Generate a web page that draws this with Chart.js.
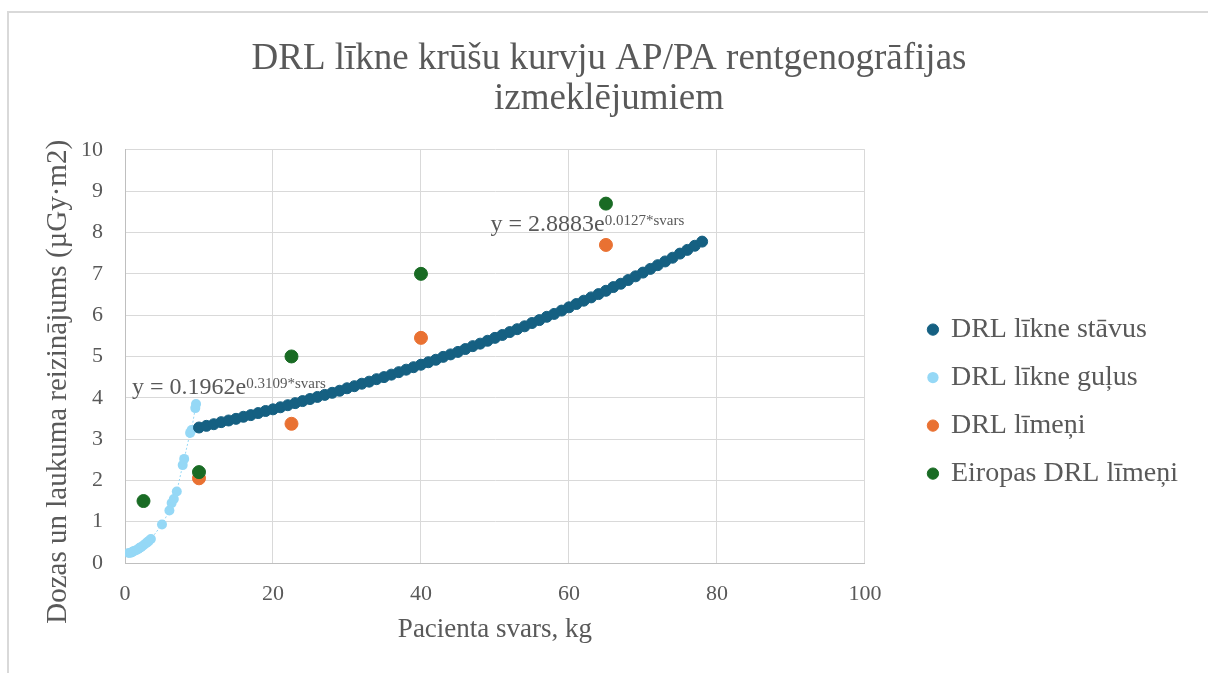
<!DOCTYPE html>
<html>
<head>
<meta charset="utf-8">
<script src="https://cdn.jsdelivr.net/npm/chart.js@4.4.1/dist/chart.umd.min.js"></script>
<style>
  body { margin: 0; background: #fff; }
  #frame { position: absolute; left: 7px; top: 11px; width: 1300px; height: 700px;
           border-left: 2px solid #d9d9d9; border-top: 2px solid #d9d9d9; }
  #wrap { position: absolute; left: 0; top: 0; width: 1208px; height: 673px; }
</style>
</head>
<body>
<div id="frame"></div>
<div id="wrap"><canvas id="drlChart" width="1208" height="673"></canvas></div>
<script>
// DRL līkne stāvus (svars kg -> dozas un laukuma reizinājums)
const standingWeight = [10, 11, 12, 13, 14, 15, 16, 17, 18, 19, 20, 21, 22, 23, 24, 25, 26, 27, 28, 29,
    30, 31, 32, 33, 34, 35, 36, 37, 38, 39, 40, 41, 42, 43, 44, 45, 46, 47, 48, 49,
    50, 51, 52, 53, 54, 55, 56, 57, 58, 59, 60, 61, 62, 63, 64, 65, 66, 67, 68, 69,
    70, 71, 72, 73, 74, 75, 76, 77, 78];
const standingDose = [3.28, 3.32, 3.36, 3.41, 3.45, 3.49, 3.54, 3.58, 3.63, 3.68, 3.72, 3.77, 3.82, 3.87, 3.92, 3.97, 4.02, 4.07, 4.12, 4.17,
    4.23, 4.28, 4.34, 4.39, 4.45, 4.50, 4.56, 4.62, 4.68, 4.74, 4.80, 4.86, 4.92, 4.99, 5.05, 5.11, 5.18, 5.25, 5.31, 5.38,
    5.45, 5.52, 5.59, 5.66, 5.73, 5.81, 5.88, 5.96, 6.03, 6.11, 6.19, 6.27, 6.35, 6.43, 6.51, 6.59, 6.68, 6.76, 6.85, 6.94,
    7.03, 7.12, 7.21, 7.30, 7.39, 7.49, 7.58, 7.68, 7.78];

// DRL līkne guļus
const lyingWeight = [0.5, 0.8, 1.0, 1.2, 1.5, 1.8, 2.0, 2.2, 2.5, 2.8, 3.0, 3.2, 3.5, 5.0, 6.0, 6.3, 6.6, 7.0, 7.8, 8.0, 8.8, 9.0, 9.5, 9.6];
const lyingDose = [0.24, 0.25, 0.27, 0.29, 0.31, 0.34, 0.37, 0.39, 0.43, 0.47, 0.50, 0.53, 0.58, 0.93, 1.27, 1.45, 1.55, 1.73, 2.37, 2.52, 3.15, 3.22, 3.75, 3.85];

// DRL līmeņi un Eiropas DRL līmeņi
const drlWeight = [10, 22.5, 40, 65];
const drlDose = [2.05, 3.37, 5.45, 7.7];
const euWeight = [2.5, 10, 22.5, 40, 65];
const euDose = [1.5, 2.2, 5.0, 7.0, 8.7];

const seriesNames = ["DRL līkne stāvus", "DRL līkne guļus", "DRL līmeņi", "Eiropas DRL līmeņi"];
const chartTitle = ["DRL līkne krūšu kurvju AP/PA rentgenogrāfijas", "izmeklējumiem"];

// trendline equations: [base, exponent, anchor x, anchor y]
const equations = [
    ["y = 0.1962e", "0.3109*svars", 0.95, 4.09],
    ["y = 2.8883e", "0.0127*svars", 49.4, 8.04]
];

function toPoints(xs, ys) {
    return xs.map((x, i) => ({ x: x, y: ys[i] }));
}

const serif = "'Liberation Serif', 'Times New Roman', serif";
const textColor = "#595959";

const equationPlugin = {
    id: "equations",
    afterDatasetsDraw(chart) {
        const ctx = chart.ctx;
        const xs = chart.scales.x, ys = chart.scales.y;
        ctx.save();
        ctx.fillStyle = textColor;
        ctx.textBaseline = "alphabetic";
        equations.forEach(eq => {
            const px = xs.getPixelForValue(eq[2]);
            const py = ys.getPixelForValue(eq[3]);
            ctx.font = "24px " + serif;
            ctx.fillText(eq[0], px, py);
            const w = ctx.measureText(eq[0]).width;
            ctx.font = "15px " + serif;
            ctx.fillText(eq[1], px + w, py - 6);
        });
        ctx.restore();
    }
};

const ctx = document.getElementById("drlChart");
new Chart(ctx, {
    type: "scatter",
    data: {
        datasets: [{
            label: seriesNames[0],
            data: toPoints(standingWeight, standingDose),
            backgroundColor: "#156082",
            borderColor: "#156082",
            pointRadius: 5.5,
            pointHoverRadius: 5.5,
            order: 2
        }, {
            label: seriesNames[1],
            data: toPoints(lyingWeight, lyingDose),
            backgroundColor: "#95d8f6",
            borderColor: "#95d8f6",
            showLine: true,
            borderWidth: 1,
            borderDash: [2, 2],
            pointBorderWidth: 0,
            pointRadius: 5,
            pointHoverRadius: 5,
            order: 3
        }, {
            label: seriesNames[2],
            data: toPoints(drlWeight, drlDose),
            backgroundColor: "#e97132",
            borderColor: "#e97132",
            pointRadius: 6.5,
            pointHoverRadius: 6.5,
            order: 1
        }, {
            label: seriesNames[3],
            data: toPoints(euWeight, euDose),
            backgroundColor: "#196b24",
            borderColor: "#196b24",
            pointRadius: 6.5,
            pointHoverRadius: 6.5,
            order: 0
        }]
    },
    options: {
        responsive: false,
        animation: false,
        layout: { padding: { left: 30, right: 20, top: 22, bottom: 20 } },
        scales: {
            x: {
                min: 0, max: 100,
                afterFit: s => { s.height = 90; },
                ticks: { stepSize: 20, color: textColor, font: { family: serif, size: 22 }, padding: 18, maxRotation: 0 },
                grid: { color: "#d9d9d9", drawTicks: false },
                border: { color: "#bfbfbf" },
                title: { display: true, text: "Pacienta svars, kg", color: textColor, font: { family: serif, size: 27 }, padding: { top: 0, bottom: 7 } }
            },
            y: {
                min: 0, max: 10,
                afterFit: s => { s.width = 95; },
                ticks: { stepSize: 1, color: textColor, font: { family: serif, size: 22 }, padding: 22 },
                grid: { color: "#d9d9d9", drawTicks: false },
                border: { color: "#bfbfbf" },
                // trailing spaces push the title a little below the axis centre, like the original
                title: { display: true, text: "Dozas un laukuma reizinājums (µGy·m2)       ", color: textColor, font: { family: serif, size: 29 }, padding: { top: 11, bottom: 0 } }
            },
            // empty spacer between plot and legend
            gap: {
                type: "linear",
                position: "right",
                afterFit: s => { s.width = 44; },
                ticks: { display: false },
                grid: { display: false },
                border: { display: false }
            }
        },
        plugins: {
            title: {
                display: true,
                text: chartTitle,
                color: textColor,
                font: { family: serif, size: 37, weight: "normal", lineHeight: 1.08 },
                padding: { top: 17, bottom: 31 }
            },
            legend: {
                position: "right",
                maxWidth: 340,
                // blank title only lowers the legend items
                title: { display: true, text: " ", font: { size: 1 }, padding: { top: 0, bottom: 127 } },
                labels: {
                    usePointStyle: true,
                    pointStyle: "circle",
                    boxWidth: 8,
                    boxHeight: 8,
                    padding: 20,
                    color: textColor,
                    font: { family: serif, size: 28 },
                    sort: (a, b) => a.datasetIndex - b.datasetIndex
                }
            },
            tooltip: { enabled: false }
        }
    },
    plugins: [equationPlugin]
});
</script>
</body>
</html>
